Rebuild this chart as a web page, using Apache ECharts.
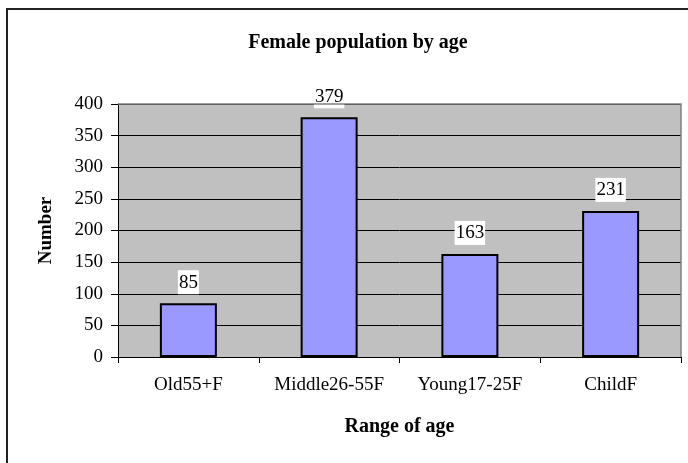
<!DOCTYPE html>
<html>
<head>
<meta charset="utf-8">
<script src="https://cdn.jsdelivr.net/npm/echarts@6/dist/echarts.min.js"></script>
<style>
  html, body { margin: 0; padding: 0; background: #fff; }
  #chart { width: 688px; height: 463px; }
</style>
</head>
<body>
<div id="chart"></div>
<script>
// chart data
const categories = ['Old55+F', 'Middle26-55F', 'Young17-25F', 'ChildF'];
const counts = [85, 379, 163, 231];
const yTicks = [0, 50, 100, 150, 200, 250, 300, 350, 400];

const serif = '"Liberation Serif", "DejaVu Serif", serif';
let chart = echarts.init(document.getElementById('chart'));

chart.setOption({
    backgroundColor: '#fff',
    animation: false,
    title: {
        text: 'Female population by age',
        left: 353,
        textAlign: 'center',
        top: 28,
        textStyle: {
            fontFamily: serif,
            fontSize: 20,
            fontWeight: 'bold',
            color: '#000'
        }
    },
    graphic: [
        {
            // outer chart border (only top and left visible)
            type: 'rect',
            silent: true,
            shape: {x: 7, y: 9, width: 800, height: 600},
            style: {fill: 'none', stroke: '#222', lineWidth: 2}
        },
        {
            // plot area top/right border
            type: 'polyline',
            silent: true,
            z: 5,
            shape: {points: [[118, 104], [681, 104], [681, 357]]},
            style: {fill: 'none', stroke: '#808080', lineWidth: 1.5}
        }
    ],
    grid: {
        left: 118,
        right: 7,
        top: 104,
        bottom: 106,
        show: true,
        backgroundColor: '#c0c0c0',
        borderWidth: 0
    },
    xAxis: {
        type: 'category',
        data: categories,
        boundaryGap: true,
        name: 'Range of age',
        nameLocation: 'middle',
        nameGap: 60,
        nameTextStyle: {
            fontFamily: serif,
            fontSize: 20,
            fontWeight: 'bold',
            color: '#000'
        },
        axisLine: {show: true, lineStyle: {color: '#000', width: 1}},
        axisTick: {show: true, interval: 0, alignWithLabel: false, length: 6, lineStyle: {color: '#000'}},
        axisLabel: {
            interval: 0,
            fontFamily: serif,
            fontSize: 19,
            color: '#000',
            margin: 19
        }
    },
    yAxis: {
        type: 'value',
        min: 0,
        max: 400,
        interval: 50,
        name: 'Number',
        nameLocation: 'middle',
        nameGap: 62,
        nameRotate: 90,
        nameTextStyle: {
            fontFamily: serif,
            fontSize: 19,
            fontWeight: 'bold',
            color: '#000'
        },
        axisLine: {show: true, lineStyle: {color: '#000', width: 1}},
        axisTick: {show: true, length: 7, inside: false, lineStyle: {color: '#000'}},
        axisLabel: {
            fontFamily: serif,
            fontSize: 19,
            color: '#000',
            margin: 15,
            formatter: function (v) {
                return yTicks.indexOf(v) >= 0 ? String(v) : '';
            }
        },
        splitLine: {show: true, lineStyle: {color: '#000', width: 1}}
    },
    series: [
        {
            type: 'bar',
            data: counts,
            barWidth: 57,
            itemStyle: {
                color: '#9999ff',
                borderColor: '#000',
                borderWidth: 2
            },
            label: {
                show: true,
                position: 'top',
                distance: 9,
                fontFamily: serif,
                fontSize: 19,
                color: '#000',
                backgroundColor: '#fff',
                padding: [3, 1, 2, 1]
            }
        }
    ]
});
</script>
</body>
</html>
